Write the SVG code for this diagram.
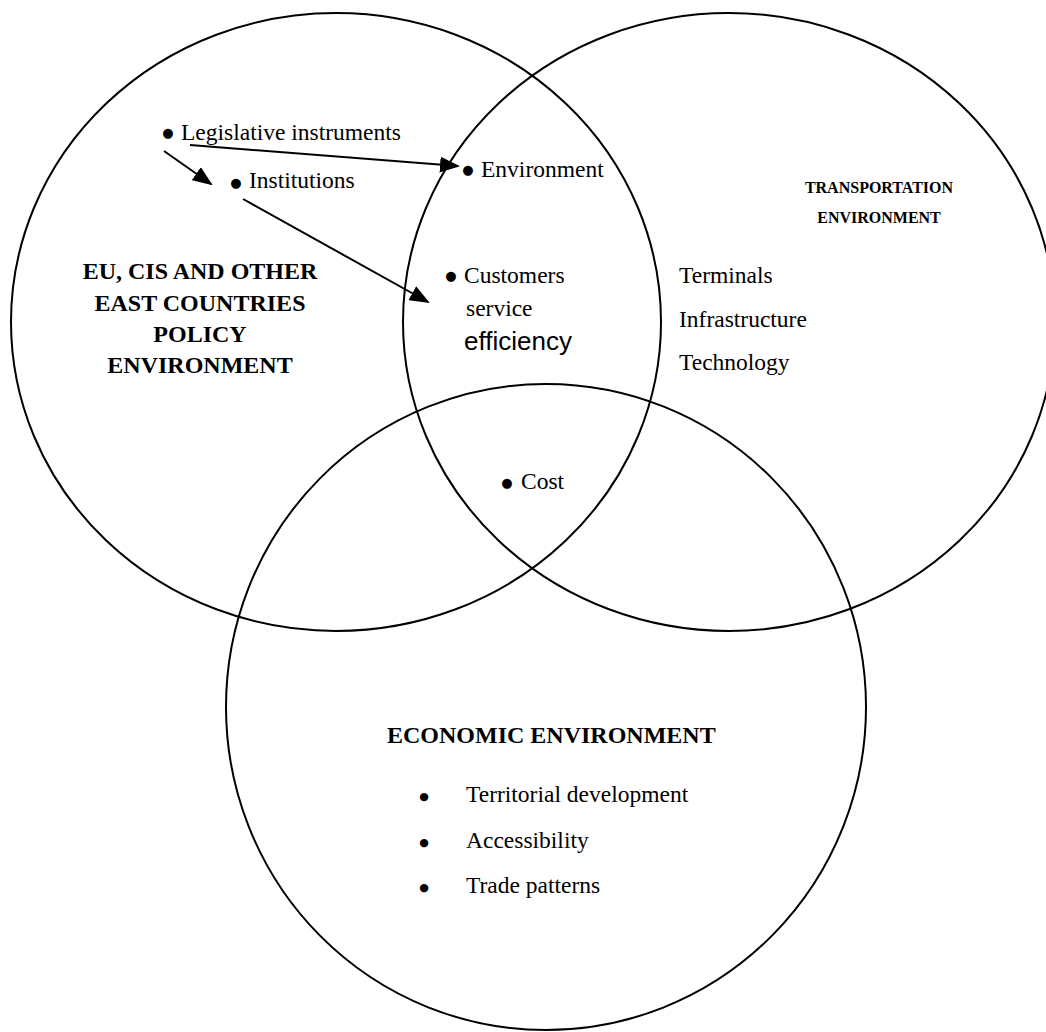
<svg xmlns="http://www.w3.org/2000/svg" width="1046" height="1032" viewBox="0 0 1046 1032">
<style>
.c{fill:none;stroke:#000;stroke-width:2}
.t{font-family:"Liberation Serif","Times New Roman",serif;font-size:23.5px;fill:#000}
.b{font-family:"Liberation Serif","Times New Roman",serif;font-size:24px;font-weight:bold;fill:#000}
.d{font-family:"DejaVu Sans",sans-serif;font-size:13px;fill:#000;text-anchor:middle;dominant-baseline:central}
.e{font-family:"DejaVu Sans",sans-serif;font-size:11px;fill:#000;text-anchor:middle;dominant-baseline:central}
.a{stroke:#000;stroke-width:2;fill:none;marker-end:url(#ah)}
</style>
<defs>
<marker id="ah" markerWidth="10" markerHeight="8" refX="9" refY="4" orient="auto" markerUnits="strokeWidth">
<path d="M0,0 L10,4 L0,8 Z" fill="#000"/>
</marker>
</defs>
<rect width="1046" height="1032" fill="#fff"/>
<g id="policy">
<ellipse class="c" cx="336" cy="322" rx="325" ry="309"/>
<text class="b" text-anchor="middle" x="200" y="279">EU, CIS AND OTHER</text>
<text class="b" text-anchor="middle" x="200" y="311">EAST COUNTRIES</text>
<text class="b" text-anchor="middle" x="200" y="342">POLICY</text>
<text class="b" text-anchor="middle" x="200" y="373">ENVIRONMENT</text>
<text class="d" x="168" y="132">●</text>
<text class="t" x="181" y="140">Legislative instruments</text>
<text class="d" x="236" y="182">●</text>
<text class="t" x="249" y="188">Institutions</text>
</g>
<g id="transport">
<ellipse class="c" cx="729" cy="322" rx="326" ry="309"/>
<text class="b" text-anchor="middle" x="879" y="193" style="font-size:16px">TRANSPORTATION</text>
<text class="b" text-anchor="middle" x="879" y="223" style="font-size:16px">ENVIRONMENT</text>
<text class="t" x="679" y="283">Terminals</text>
<text class="t" x="679" y="327">Infrastructure</text>
<text class="t" x="679" y="370">Technology</text>
</g>
<g id="economic">
<ellipse class="c" cx="546" cy="707" rx="320" ry="323"/>
<text class="b" x="387" y="743">ECONOMIC ENVIRONMENT</text>
<text class="e" x="424" y="796">●</text>
<text class="t" x="466" y="802">Territorial development</text>
<text class="e" x="424" y="842">●</text>
<text class="t" x="466" y="848">Accessibility</text>
<text class="e" x="424" y="887">●</text>
<text class="t" x="466" y="893">Trade patterns</text>
</g>
<g id="intersections">
<text class="d" x="468" y="169">●</text>
<text class="t" x="481" y="177">Environment</text>
<text class="d" x="451" y="275">●</text>
<text class="t" x="464" y="283">Customers</text>
<text class="t" x="466" y="316">service</text>
<text class="t" x="464" y="350" style="font-family:'Liberation Sans',Arial,sans-serif;font-size:26px">efficiency</text>
<text class="d" x="507" y="482">●</text>
<text class="t" x="521" y="489">Cost</text>
</g>
<g id="connectors">
<line class="a" x1="164" y1="151" x2="211" y2="184"/>
<line class="a" x1="190" y1="145" x2="458" y2="166"/>
<line class="a" x1="243" y1="199" x2="428" y2="302"/>
</g>
</svg>
